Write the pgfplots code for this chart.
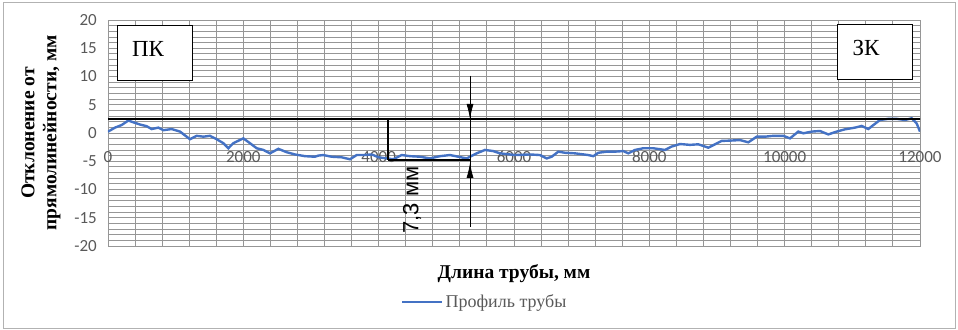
\documentclass[border=0pt]{standalone}
\usepackage{pgfplots}
\pgfplotsset{compat=1.18}
\usepackage{fontspec}
\setmainfont{Liberation Serif}
\newfontfamily\carlito{Carlito}
\newfontfamily\arial{Liberation Sans}
\usetikzlibrary{arrows.meta}
\definecolor{exblue}{RGB}{68,114,196}
\definecolor{lblgray}{RGB}{89,89,89}
\definecolor{gridgray}{RGB}{150,150,150}
\begin{document}
\begin{tikzpicture}
\path (-108bp,-84bp) rectangle (850bp,246bp);
\draw[gray!60, line width=1bp] (-104bp,-82bp) rectangle (847bp,243bp);
\begin{axis}[
  at={(0,0)}, anchor=south west,
  scale only axis, width=812bp, height=226bp,
  xmin=0, xmax=12000, ymin=-20, ymax=20,
  xtick={0,2000,...,12000}, ytick={-20,-15,...,20},
  scaled x ticks=false, scaled y ticks=false,
  minor x tick num=4, minor y tick num=4,
  grid=both,
  major grid style={gridgray, line width=0.9bp},
  minor grid style={gridgray, line width=0.9bp},
  major tick length=0pt, minor tick length=0pt,
  axis line style={gridgray, line width=0.9bp},
  /pgf/number format/assume math mode=true,
  /pgf/number format/1000 sep={},
  ticklabel style={font=\fontsize{17bp}{19bp}\carlito, text=lblgray},
  xticklabel style={anchor=center, inner sep=0pt, yshift=89bp},
  yticklabel style={anchor=east, inner sep=0pt, xshift=-11bp},
  legend style={at={(0.464,-0.248)}, anchor=center, draw=none, fill=none,
    font=\fontsize{18bp}{20bp}\selectfont, text=lblgray},
  legend image code/.code={\draw[#1] (0bp,0bp) -- (40bp,0bp);},
]
\addplot[exblue, line width=2.4bp] coordinates {
(0,0.24)(103,0.95)(200,1.4)(300,2.2)(374,1.9)(473,1.5)(572,1.2)(645,0.7)(744,0.95)(818,0.5)(941,0.7)(1064,0.25)(1212,-1.1)(1310,-0.5)(1409,-0.65)(1507,-0.5)(1606,-1.1)(1704,-1.8)(1778,-2.7)(1852,-1.8)(2000,-0.95)(2098,-1.8)(2197,-2.7)(2296,-3.0)(2394,-3.6)(2517,-2.8)(2641,-3.4)(2764,-3.8)(2911,-4.1)(3059,-4.2)(3108,-4.0)(3182,-3.9)(3305,-4.2)(3453,-4.3)(3576,-4.65)(3675,-3.9)(3773,-3.9)(3897,-3.8)(4000,-4.3)(4216,-4.65)(4340,-3.9)(4463,-4.1)(4611,-4.2)(4758,-4.5)(4906,-4.1)(5054,-3.9)(5177,-4.2)(5300,-4.5)(5448,-3.6)(5571,-3.0)(5694,-3.2)(5793,-3.6)(6015,-3.9)(6236,-3.8)(6384,-3.9)(6483,-4.5)(6557,-4.2)(6655,-3.3)(6754,-3.5)(6901,-3.6)(7098,-3.9)(7172,-4.1)(7246,-3.5)(7369,-3.3)(7492,-3.3)(7616,-3.2)(7690,-3.6)(7788,-3.0)(7911,-2.7)(8059,-2.7)(8231,-3.0)(8330,-2.4)(8453,-1.95)(8601,-2.1)(8724,-2.0)(8872,-2.6)(8970,-2.0)(9069,-1.4)(9192,-1.35)(9340,-1.25)(9463,-1.65)(9586,-0.65)(9709,-0.65)(9832,-0.5)(9980,-0.5)(10079,-0.95)(10201,0.25)(10276,-0.05)(10399,0.25)(10522,0.35)(10645,-0.25)(10769,0.25)(10891,0.65)(11039,0.95)(11138,1.25)(11236,0.7)(11310,1.4)(11409,2.3)(11532,2.5)(11655,2.5)(11778,2.3)(11877,2.6)(11951,1.7)(12000,0.25)
};
\addlegendentry{Профиль трубы}
\addplot[black, line width=2.8bp, forget plot] coordinates {(0,2.48)(12030,2.48)};
\addplot[black, line width=2.8bp, forget plot] coordinates {(4138,2.48)(4138,-4.78)};
\addplot[black, line width=1.1bp, forget plot] coordinates {(4138,-4.78)(5350,-4.78)};
\addplot[black, line width=0.8bp, forget plot] coordinates {(5350,10.1)(5350,-16.6)};
\addplot[black, line width=0.8bp, forget plot, -{Latex[length=15bp,width=7bp]}] coordinates {(5350,10.1)(5350,2.48)};
\addplot[black, line width=0.8bp, forget plot, -{Latex[length=15bp,width=7bp]}] coordinates {(5350,-16.6)(5350,-5.3)};
\end{axis}
\draw[black, line width=0.9bp, fill=white] (9bp,166bp) rectangle (84bp,221bp);
\node[font=\fontsize{23bp}{25bp}\selectfont] at (40bp,197bp) {ПК};
\draw[black, line width=0.9bp, fill=white] (729bp,167bp) rectangle (804bp,222bp);
\node[font=\fontsize{23bp}{25bp}\selectfont] at (758bp,198bp) {ЗК};
\node[rotate=90, font=\fontsize{22bp}{24bp}\arial] at (304bp,46bp) {7,3 мм};
\node[font=\fontsize{19.5bp}{22bp}\selectfont\bfseries] at (406bp,-28bp) {Длина трубы, мм};
\node[rotate=90, align=center, font=\fontsize{19.5bp}{22bp}\selectfont\bfseries] at (-67bp,113bp) {Отклонение от\\прямолинейности, мм};
\end{tikzpicture}
\end{document}
